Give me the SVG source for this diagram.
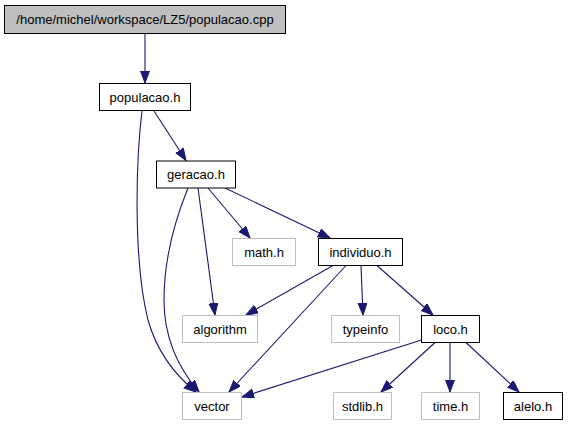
<svg xmlns="http://www.w3.org/2000/svg" width="568" height="427" viewBox="0 0 568 427">
<style>
rect{fill:#fff;stroke:#000;stroke-width:1}
rect.g{stroke:#bfbfbf}
rect.root{fill:#bfbfbf}
text{font-family:"Liberation Sans",Arial,sans-serif;font-size:13px;text-anchor:middle;fill:#000}
#edges path{fill:none;stroke:#191970;stroke-width:1.1;marker-end:url(#ah)}
</style>
<defs>
<marker id="ah" markerUnits="userSpaceOnUse" markerWidth="13" markerHeight="11" refX="12" refY="4.5" orient="auto">
<path d="M0,0 L12,4.5 L0,9 z" fill="#191970" stroke="#191970" stroke-width="1"/>
</marker>
</defs>
<g id="edges">
<path d="M145,33.5 L145,83"/>
<path d="M154,111 L186,160.5"/>
<path d="M142,111 C136,160 133,260 148,320 C157,352 175,375 196,392"/>
<path d="M188,188 C175,220 164,260 164,300 C164,340 180,370 199,392"/>
<path d="M198,188 L215,315"/>
<path d="M208,188 L250,238"/>
<path d="M225,188 L330,238"/>
<path d="M333,265.5 L246,315"/>
<path d="M346,265.5 L229,392"/>
<path d="M361,265.5 L363,315"/>
<path d="M377,265.5 L433,315"/>
<path d="M421.5,340 L242,397"/>
<path d="M435,342.5 L381,392"/>
<path d="M450,342.5 L450,392"/>
<path d="M466,342.5 L519,392"/>
</g>
<g id="n_root"><rect class="root" x="4.5" y="5.5" width="281" height="28"/><text x="145" y="24">/home/michel/workspace/LZ5/populacao.cpp</text></g>
<g id="n_populacao"><rect x="99.5" y="83.5" width="91" height="27"/><text x="145" y="101.5">populacao.h</text></g>
<g id="n_geracao"><rect x="156.5" y="161" width="79" height="27"/><text x="196" y="179">geracao.h</text></g>
<g id="n_math"><rect class="g" x="232.5" y="238.5" width="63" height="27"/><text x="264" y="256.5">math.h</text></g>
<g id="n_individuo"><rect x="318.5" y="238.5" width="84" height="27"/><text x="360.5" y="256.5">individuo.h</text></g>
<g id="n_algorithm"><rect class="g" x="182.5" y="315.5" width="75" height="27"/><text x="220" y="333.5">algorithm</text></g>
<g id="n_typeinfo"><rect class="g" x="331.5" y="315.5" width="68" height="27"/><text x="365.5" y="333.5">typeinfo</text></g>
<g id="n_loco"><rect x="421.5" y="315.5" width="58" height="27"/><text x="450.5" y="333.5">loco.h</text></g>
<g id="n_vector"><rect class="g" x="182.5" y="392.5" width="59" height="27"/><text x="212" y="410.5">vector</text></g>
<g id="n_stdlib"><rect class="g" x="333.5" y="392.5" width="58" height="27"/><text x="362.5" y="410.5">stdlib.h</text></g>
<g id="n_time"><rect class="g" x="421.5" y="392.5" width="58" height="27"/><text x="450.5" y="410.5">time.h</text></g>
<g id="n_alelo"><rect x="503.5" y="392.5" width="59" height="27"/><text x="533" y="410.5">alelo.h</text></g>
</svg>
